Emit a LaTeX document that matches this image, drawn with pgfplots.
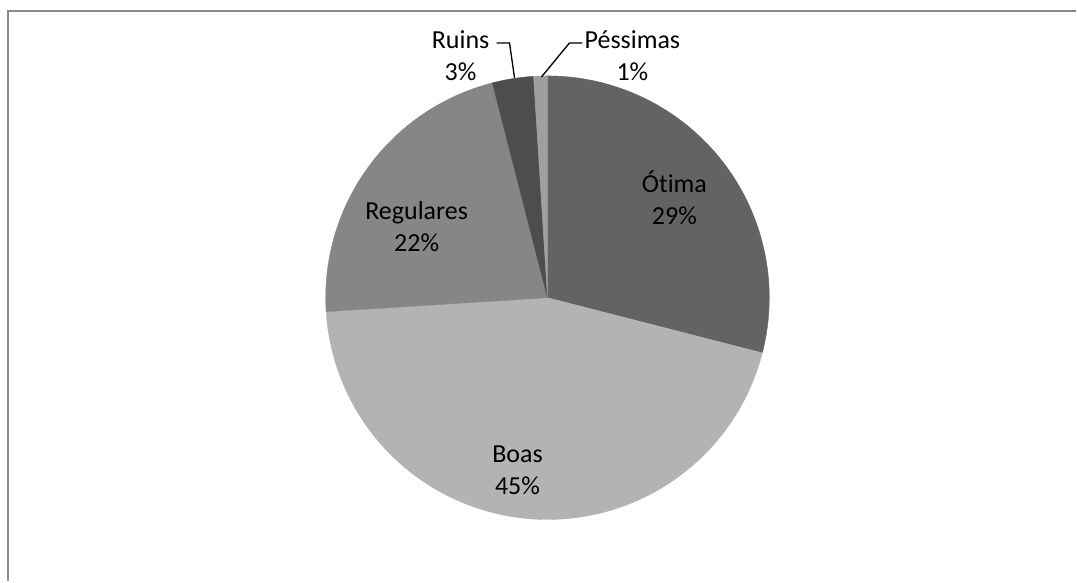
\documentclass[border=0pt]{standalone}
\usepackage{pgfplots}
\pgfplotsset{compat=1.18}
\usepackage{fontspec}
\setmainfont{Carlito}[Ligatures=NoCommon]
\definecolor{cOtima}{HTML}{636363}
\definecolor{cBoas}{HTML}{B3B3B3}
\definecolor{cReg}{HTML}{868686}
\definecolor{cRuins}{HTML}{4D4D4D}
\definecolor{cPess}{HTML}{9F9F9F}
\definecolor{frame}{HTML}{8A8A8A}
% shares (percent), clockwise from 12 o'clock
\def\vOtima{29}\def\vBoas{45}\def\vReg{22}\def\vRuins{3}\def\vPess{1}
\def\pcx{548}\def\pcy{284}\def\pieR{222}
\newcommand\slice[3]{%
  \addplot[fill=#3, draw=#3, line width=0.3pt, domain=#1:#2, samples=120]
    ({\pcx+\pieR*cos(x)},{\pcy+\pieR*sin(x)}) -- (axis cs:\pcx,\pcy) -- cycle;}
\begin{document}
\begin{tikzpicture}[lbl/.style={font=\fontsize{19.5}{24}\selectfont, align=center, inner sep=0pt, text=black}]
\pgfmathsetmacro\aA{90}
\pgfmathsetmacro\aB{\aA-3.6*\vOtima}
\pgfmathsetmacro\aC{\aB-3.6*\vBoas}
\pgfmathsetmacro\aD{\aC-3.6*\vReg}
\pgfmathsetmacro\aE{\aD-3.6*\vRuins}
\pgfmathsetmacro\aF{\aE-3.6*\vPess}
\begin{axis}[x=0.75pt, y=0.75pt, xmin=0, xmax=1077, ymin=0, ymax=582,
  hide axis, clip=false, trig format plots=deg]
\path (axis cs:0,0) rectangle (axis cs:1077,582);
\slice{\aA}{\aB}{cOtima}
\slice{\aB}{\aC}{cBoas}
\slice{\aC}{\aD}{cReg}
\slice{\aD}{\aE}{cRuins}
\slice{\aE}{\aF}{cPess}
% frame
\addplot[frame, line width=1.5pt] coordinates {(8,0) (8,571) (1077,571)};
% leader lines
\addplot[black, line width=1pt] coordinates {(497,539) (510,539) (515,504)};
\addplot[black, line width=1pt] coordinates {(583,539) (570,539) (542,505)};
% labels
\node[lbl] at (axis cs:675,384) {Ótima\\29\%};
\node[lbl] at (axis cs:518,111) {Boas\\45\%};
\node[lbl] at (axis cs:417,355) {Regulares\\22\%};
\node[lbl] at (axis cs:461,526) {Ruins\\3\%};
\node[lbl] at (axis cs:633,526) {Péssimas\\1\%};
\end{axis}
\end{tikzpicture}
\end{document}
